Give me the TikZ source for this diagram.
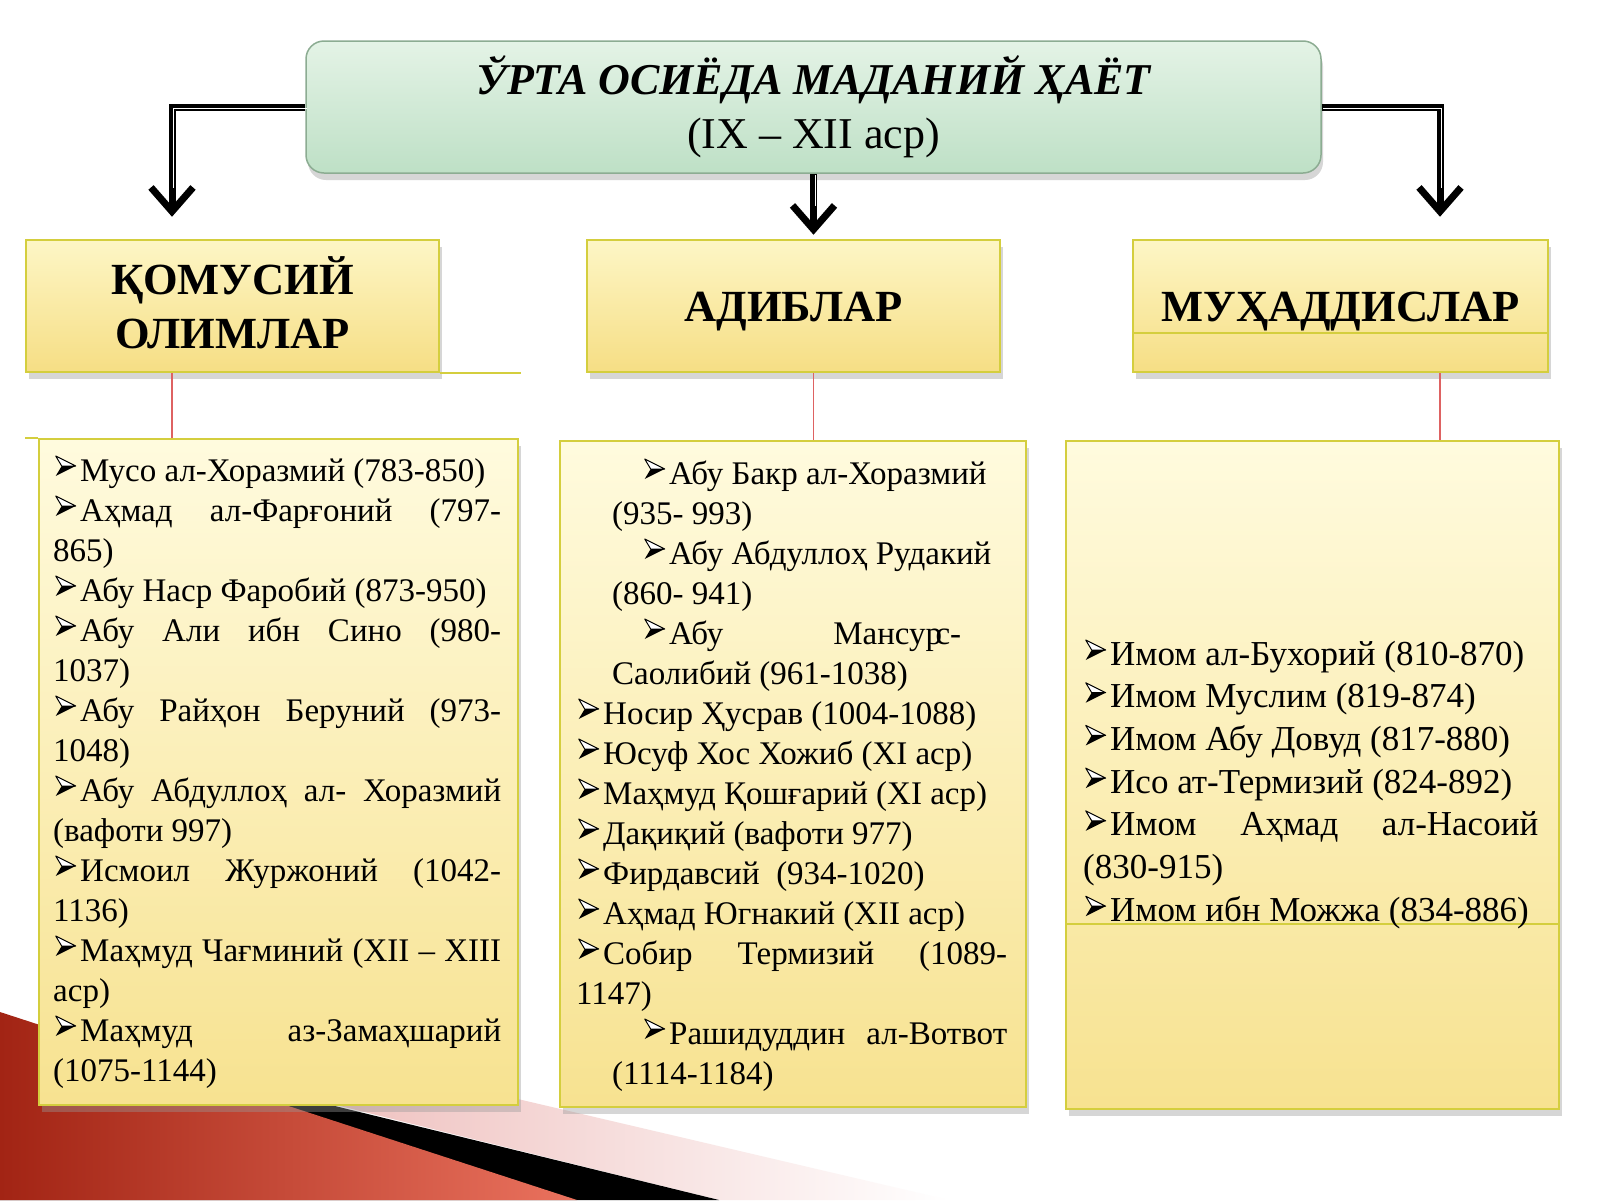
\documentclass[tikz,border=0pt]{standalone}
\usepackage{fontspec, xfp}
\setmainfont{Liberation Serif}
\usetikzlibrary{arrows.meta, shadows}

\definecolor{mintTop}{RGB}{228,243,230}
\definecolor{mintBottom}{RGB}{190,224,198}
\definecolor{mintEdge}{RGB}{140,172,146}
\definecolor{headTop}{RGB}{253,246,198}
\definecolor{headBottom}{RGB}{246,222,132}
\definecolor{listTop}{RGB}{255,251,222}
\definecolor{listBottom}{RGB}{247,226,144}
\definecolor{yellowEdge}{RGB}{212,206,62}
\definecolor{stemRed}{RGB}{222,98,98}
\definecolor{deepRed}{RGB}{162,36,20}
\definecolor{softRed}{RGB}{234,114,94}
\definecolor{blush}{RGB}{238,190,188}

\newcommand*{\itemMark}{\makebox[27pt][l]{\hspace{2pt}\tikz[baseline=0pt, x=1pt, y=1pt, line join=round] {
    \filldraw[draw=black, fill=white, line width=1pt] (0,25) -- (20,15) -- (6,15) -- cycle;
    \fill[black] (0,5) -- (20,15) -- (6,15) -- cycle;}}}
\newcommand*{\nestItem}[2]{\begingroup\leftskip=36pt\rightskip=#1pt\hspace*{30pt}\itemMark #2\par\endgroup}% right margin, text
\newcommand*{\headBox}[6]{% name, x, y, width, height, text
    \node[headbox, minimum width=#4pt, minimum height=#5pt] (#1) at (\fpeval{#2+#4/2},\fpeval{#3+#5/2}) {#6};
}
\newcommand*{\listBox}[5]{% name, x, y, width, height
    \node[listbox, minimum width=#4pt, minimum height=#5pt] (#1) at (\fpeval{#2+#4/2},\fpeval{#3+#5/2}) {};
}
\newcommand*{\elbowArrow}[3]{% from, to, gap left above the box
    \draw[bigarrow, shorten >=#3pt] (#1) -| (#2);
    \draw[arrowcore, shorten >=\fpeval{#3+30}pt] (#1) -| (#2);
}

\tikzset{
    titlebox/.style={draw=mintEdge, line width=1.5pt, rounded corners=18pt, top color=mintTop, bottom color=mintBottom,
        drop shadow={shadow xshift=2pt, shadow yshift=-7pt, fill=black!40, opacity=0.4},
        align=center, font=\fontsize{44}{54}\selectfont},
    headbox/.style={draw=yellowEdge, line width=2.5pt, top color=headTop, bottom color=headBottom,
        drop shadow={shadow xshift=3pt, shadow yshift=-7pt, fill=black!40, opacity=0.4},
        align=center, font=\fontsize{44.5}{54}\selectfont\bfseries},
    listbox/.style={draw=yellowEdge, line width=2pt, top color=listTop, bottom color=listBottom,
        drop shadow={shadow xshift=3pt, shadow yshift=-7pt, fill=black!40, opacity=0.4}},
    listtext/.style={inner sep=0pt, anchor=base west, align=justify, font=\fontsize{33}{40}\selectfont,
        execute at begin node={\tolerance=10000\relax\hyphenpenalty=10000\relax\exhyphenpenalty=10000\relax}},
    stem/.style={draw=stemRed, line width=1.5pt},
    boxline/.style={draw=yellowEdge, line width=2pt},
    bigarrow/.style={draw=black, line width=7pt, -{Straight Barb[length=24pt, width=42pt, line width=7pt]}},
    arrowcore/.style={draw=white, line width=0.9pt, transform canvas={xshift=1.5pt, yshift=-1.5pt}}
}

\begin{document}
\begin{tikzpicture}[x=1pt, y=-1pt] {
\useasboundingbox[fill=white] (0,0) rectangle (1600,1200);
\shade[left color=blush, right color=white] (300,1048) -- (949,1200) -- (719,1200) -- (300,1096) -- cycle;
\fill[black] (0,1024) -- (719,1200) -- (0,1200) -- cycle;
\shade[left color=deepRed, right color=softRed] (0,1012) -- (577,1200) -- (0,1200) -- cycle;
\node[titlebox, minimum width=1015pt, minimum height=132pt] (title) at (813.5,107) {{\bfseries\itshape ЎРТА ОСИЁДА МАДАНИЙ ҲАЁТ}\\(IX – XII аср)};
\headBox{kom}{26}{240}{413}{132}{ҚОМУСИЙ\\ОЛИМЛАР\rule[-6pt]{0pt}{6pt}}
\headBox{adib}{587}{240}{413}{132}{\raisebox{-15.7pt}[0pt][0pt]{АДИБЛАР}}
\headBox{muh}{1133}{240}{415}{132}{\raisebox{-15.7pt}[0pt][0pt]{МУҲАДДИСЛАР}}
\listBox{komlist}{39}{439}{479}{666}
\listBox{adiblist}{560}{441}{466}{666}
\listBox{muhlist}{1066}{441}{493}{668}
\coordinate (colL) at (172,0);
\coordinate (colR) at (1440,0);
\elbowArrow{title.west}{colL |- kom.north}{22}
\elbowArrow{title.south}{title.south |- adib.north}{4}
\elbowArrow{title.east}{colR |- muh.north}{22}
\draw[stem] (colL |- kom.south) -- (colL |- komlist.north);
\draw[stem] (title.south |- adib.south) -- (title.south |- adiblist.north);
\draw[stem] (colR |- muh.south) -- (colR |- muhlist.north);
\draw[boxline] (kom.south east) -- ++(81,0);
\draw[boxline] (komlist.north west) -- ++(-13,0);
\draw[boxline] ([yshift=40pt]muh.south west) -- ([yshift=40pt]muh.south east);
\draw[boxline] ([yshift=186pt]muhlist.south west) -- ([yshift=186pt]muhlist.south east);
\node[listtext, text width=448pt] (komtext) at ([xshift=15pt, yshift=-43pt]komlist.north west) {%
\itemMark Мусо ал-Хоразмий (783-850)\par
\itemMark Аҳмад ал-Фарғоний (797-\linebreak 865)\par
\itemMark Абу Наср Фаробий (873-950)\par
\itemMark Абу Али ибн Сино (980-\linebreak 1037)\par
\itemMark Абу Райҳон Беруний (973-\linebreak 1048)\par
\itemMark Абу Абдуллоҳ ал- Хоразмий\linebreak (вафоти 997)\par
\itemMark Исмоил Журжоний (1042-\linebreak 1136)\par
\itemMark Маҳмуд Чағминий (XII – XIII\linebreak аср)\par
\itemMark Маҳмуд аз-Замаҳшарий\linebreak (1075-1144)};
\node[listtext, text width=431pt] (adibtext) at ([xshift=17pt, yshift=-44pt]adiblist.north west) {%
\nestItem{0}{Абу Бакр ал-Хоразмий\newline (935- 993)}
\nestItem{0}{Абу Абдуллоҳ Рудакий\newline (860- 941)}
\nestItem{46}{Абу Мансу\makebox[0.3em][l]{р}с-\linebreak Саолибий (961-1038)}
\itemMark Носир Ҳусрав (1004-1088)\par
\itemMark Юсуф Хос Хожиб (XI аср)\par
\itemMark Маҳмуд Қошғарий (XI аср)\par
\itemMark Дақиқий (вафоти 977)\par
\itemMark Фирдавсий\ \ (934-1020)\par
\itemMark Аҳмад Югнакий (XII аср)\par
\itemMark Собир Термизий (1089-\linebreak 1147)\par
\nestItem{0}{Рашидуддин ал-Вотвот\linebreak (1114-1184)}};
\node[listtext, text width=455pt, font=\fontsize{35}{42.7}\selectfont] (muhtext) at ([xshift=18pt, yshift=-225pt]muhlist.north west) {%
\itemMark Имом ал-Бухорий (810-870)\par
\itemMark Имом Муслим (819-874)\par
\itemMark Имом Абу Довуд (817-880)\par
\itemMark Исо ат-Термизий (824-892)\par
\itemMark Имом Аҳмад ал-Насоий\linebreak (830-915)\par
\itemMark Имом ибн Можжа (834-886)};
}\end{tikzpicture}
\end{document}
